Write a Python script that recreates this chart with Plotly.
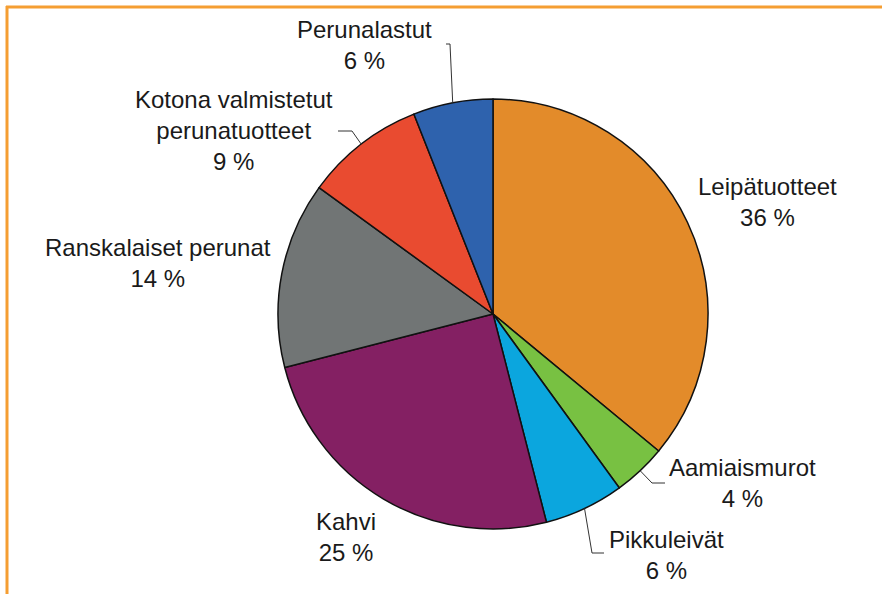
import math
import plotly.graph_objects as go

# ---- data ----
categories = ["Leipätuotteet", "Aamiaismurot", "Pikkuleivät", "Kahvi",
              "Ranskalaiset perunat", "Kotona valmistetut<br>perunatuotteet", "Perunalastut"]
values = [36, 4, 6, 25, 14, 9, 6]
colors = ["#E38B2A", "#78C142", "#0BA6DE", "#842063", "#717575", "#E94B30", "#2E62AD"]

# ---- layout helpers (pixel positions of labels / leader elbows) ----
W, H = 882, 594
CX, CY, R = 493, 314, 215
label_pos = [(767, 202.5), (742, 483), (666, 555), (346, 537),
             (158, 263.5), (234, 130.5), (364, 44.5)]
# leader: (elbow, end) or None
leaders = [None, ((652, 483), (665, 483)), ((592, 553), (604, 553)), None,
           None, ((352, 131), (338, 131)), ((450, 44), (446, 44))]


def px(x):
    return x / W


def py(y):
    return 1 - y / H


fig = go.Figure()
fig.add_trace(go.Pie(
    labels=categories, values=values, sort=False, direction="clockwise",
    rotation=0, marker=dict(colors=colors, line=dict(color="#111111", width=1.5)),
    textinfo="none", showlegend=False,
    domain=dict(x=[px(CX - R), px(CX + R)], y=[py(CY + R), py(CY - R)]),
))

total = sum(values)
cum = 0
shapes = []
annotations = []
for i, (cat, v) in enumerate(zip(categories, values)):
    mid = (cum + v / 2) / total * 2 * math.pi
    cum += v
    ex = CX + R * math.sin(mid)
    ey = CY - R * math.cos(mid)
    lx, ly = label_pos[i]
    annotations.append(dict(
        x=px(lx), y=py(ly), xref="paper", yref="paper",
        text=f"{cat}<br>{v} %", showarrow=False, align="center",
        xanchor="center", yanchor="middle",
        font=dict(family="Arial, Liberation Sans, sans-serif", size=24, color="#1a1a1a"),
    ))
    if leaders[i]:
        (bx, by), (tx, ty) = leaders[i]
        shapes.append(dict(
            type="path", xref="paper", yref="paper",
            path=f"M {px(ex)},{py(ey)} L {px(bx)},{py(by)} L {px(tx)},{py(ty)}",
            line=dict(color="#333333", width=1),
        ))

# orange frame
shapes.append(dict(type="line", xref="paper", yref="paper", x0=px(6), x1=1,
                   y0=py(7), y1=py(7), line=dict(color="#F59E32", width=3)))
shapes.append(dict(type="line", xref="paper", yref="paper", x0=px(7), x1=px(7),
                   y0=py(6), y1=0, line=dict(color="#F59E32", width=3)))

fig.update_layout(
    width=W, height=H, margin=dict(l=0, r=0, t=0, b=0),
    paper_bgcolor="white", plot_bgcolor="white",
    shapes=shapes, annotations=annotations,
)
fig.write_html("out.html", config={"displayModeBar": False},
               post_script="document.body.style.margin='0';document.body.style.overflow='hidden';")
